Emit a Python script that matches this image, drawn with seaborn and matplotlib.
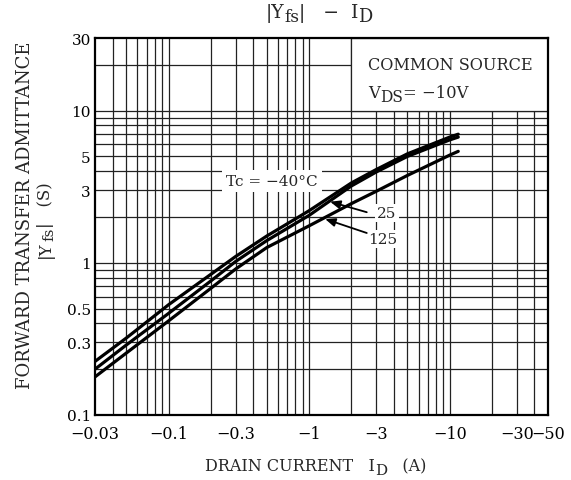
import numpy as np
import pandas as pd
import matplotlib
matplotlib.use("Agg")
import matplotlib.pyplot as plt
import seaborn as sns
from matplotlib.ticker import FixedLocator, NullFormatter
from matplotlib.patches import Rectangle

# ---- data ----
drain_current = [0.03, 0.05, 0.1, 0.2, 0.3, 0.5, 1, 2, 3, 5, 10, 11.5]
yfs_m40 = [0.225, 0.32, 0.53, 0.84, 1.10, 1.50, 2.20, 3.35, 4.10, 5.20, 6.70, 7.00]
yfs_25 = [0.200, 0.288, 0.465, 0.76, 1.02, 1.40, 2.05, 3.20, 3.95, 5.00, 6.42, 6.70]
yfs_125 = [0.178, 0.255, 0.415, 0.68, 0.91, 1.26, 1.75, 2.45, 2.95, 3.75, 5.10, 5.40]
temps = ["-40", "25", "125"]

x_ticks = [0.03, 0.1, 0.3, 1, 3, 10, 30, 50]
x_tick_labels = ["−0.03", "−0.1", "−0.3", "−1", "−3", "−10", "−30", "−50"]
y_ticks = [0.1, 0.3, 0.5, 1, 3, 5, 10, 30]
y_tick_labels = ["0.1", "0.3", "0.5", "1", "3", "5", "10", "30"]
x_grid = [0.04, 0.05, 0.06, 0.07, 0.08, 0.09, 0.1, 0.2, 0.3, 0.4, 0.5, 0.6, 0.7,
          0.8, 0.9, 1, 2, 3, 4, 5, 6, 7, 8, 9, 10, 20, 30, 40]
y_grid = [0.2, 0.3, 0.4, 0.5, 0.6, 0.7, 0.8, 0.9, 1, 2, 3, 4, 5, 6, 7, 8, 9, 10, 20]

df = pd.DataFrame({
    "ID": drain_current * 3,
    "Yfs": yfs_m40 + yfs_25 + yfs_125,
    "Tc": sum([[t] * len(drain_current) for t in temps], []),
})

sns.set_style("white")
plt.rcParams["font.family"] = ["DejaVu Serif"]
plt.rcParams["mathtext.fontset"] = "dejavuserif"

W, H = 571, 481
fig = plt.figure(figsize=(W / 100, H / 100), dpi=100)
ax = fig.add_axes([95 / W, 65 / H, 453 / W, 377 / H])
ax.set_xscale("log")
ax.set_yscale("log")

sns.lineplot(data=df, x="ID", y="Yfs", hue="Tc", palette=["black"] * 3,
             legend=False, linewidth=2.3, ax=ax, zorder=3)

ax.set_xlim(0.03, 50)
ax.set_ylim(0.1, 30)
ax.xaxis.set_major_locator(FixedLocator(x_ticks))
ax.xaxis.set_ticklabels(x_tick_labels)
ax.yaxis.set_major_locator(FixedLocator(y_ticks))
ax.yaxis.set_ticklabels(y_tick_labels)
ax.xaxis.set_minor_locator(FixedLocator(x_grid))
ax.yaxis.set_minor_locator(FixedLocator(y_grid))
ax.xaxis.set_minor_formatter(NullFormatter())
ax.yaxis.set_minor_formatter(NullFormatter())
ax.xaxis.remove_overlapping_locs = False
ax.yaxis.remove_overlapping_locs = False
ax.tick_params(which="both", length=0, colors="black")
ax.tick_params(axis="x", labelsize=11.5, pad=7)
ax.tick_params(axis="y", labelsize=11, pad=3)
ax.grid(False, which="major")
ax.grid(True, which="minor", color="#222222", linewidth=0.9)
ax.set_axisbelow(True)
for s in ax.spines.values():
    s.set_color("black")
    s.set_linewidth(1.6)
ax.set_xlabel("")
ax.set_ylabel("")

# white box for condition text
ax.add_patch(Rectangle((2, 10), 48, 20, facecolor="white", edgecolor="#222222",
                       linewidth=0.9, zorder=1))

# curve labels
ax.text(0.545, 3.45, "Tc = −40°C", fontsize=11, ha="center", va="center", zorder=4,
        bbox=dict(facecolor="white", edgecolor="none", pad=3))
ax.text(4.2, 2.12, "25", fontsize=11, ha="right", va="center", zorder=4,
        bbox=dict(facecolor="white", edgecolor="none", pad=1.5))
ax.text(4.2, 1.43, "125", fontsize=11, ha="right", va="center", zorder=4,
        bbox=dict(facecolor="white", edgecolor="none", pad=1.5))
arrow = dict(arrowstyle="-|>,head_length=0.6,head_width=0.25", color="black",
             lw=1.3, shrinkA=0, shrinkB=0)
ax.annotate("", xy=(1.41, 2.52), xytext=(2.57, 2.15), arrowprops=arrow, zorder=5)
ax.annotate("", xy=(1.30, 1.94), xytext=(2.57, 1.57), arrowprops=arrow, zorder=5)

renderer = fig.canvas.get_renderer()


def rich_text(x_px, y_px, pieces, size, rotation=0, ha="center"):
    """Place text pieces (string, drop_px, scale) along a baseline.
    x_px, y_px are image pixels from the top-left corner."""
    items = []
    for s, drop, scale in pieces:
        t = fig.text(0, 0, s, fontsize=size * scale, rotation=rotation,
                     rotation_mode="anchor", ha="left", va="baseline")
        bb = t.get_window_extent(renderer)
        length = bb.width if rotation == 0 else bb.height
        items.append((t, drop, length))
    total = sum(i[2] for i in items)
    if rotation == 0:
        pos = x_px - total / 2 if ha == "center" else x_px
        for t, drop, length in items:
            t.set_position((pos / W, 1 - (y_px + drop) / H))
            pos += length
    else:
        pos = y_px + total / 2 if ha == "center" else y_px
        for t, drop, length in items:
            t.set_position(((x_px + drop) / W, 1 - pos / H))
            pos -= length


# conditions
rich_text(368, 70, [("COMMON SOURCE", 0, 1)], 11.6, ha="left")
rich_text(368, 98, [("V", 0, 1), ("DS", 4, 0.95), ("= −10V", 0, 1)], 11.8, ha="left")

# title
rich_text(319, 18, [("|Y", 0, 1), ("fs", 4, 0.9), ("|   −  I", 0, 1), ("D", 4, 0.95)], 13.5)

# x label
rich_text(316, 471, [("DRAIN CURRENT   I", 0, 1), ("D", 4, 0.95), ("   (A)", 0, 1)], 11.5)

# y label
rich_text(30, 215, [("FORWARD TRANSFER ADMITTANCE", 0, 1)], 13, rotation=90)
rich_text(50, 220, [("|Y", 0, 1), ("fs", 3, 0.9), ("|   (S)", 0, 1)], 12, rotation=90)

fig.savefig("out.png", dpi=100)
